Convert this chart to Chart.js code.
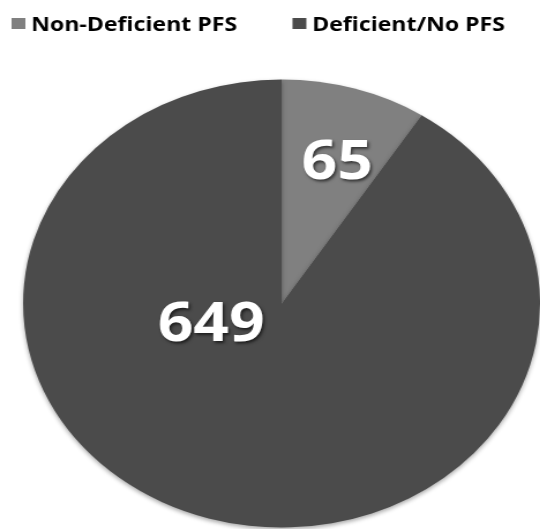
<!DOCTYPE html>
<html>
<head>
<meta charset="utf-8">
<script src="https://cdn.jsdelivr.net/npm/chart.js@4/dist/chart.umd.min.js"></script>
<style>
  html, body { margin: 0; padding: 0; background: #ffffff; overflow: hidden; }
  #wrap { width: 468px; height: 529px; transform: scale(1.154, 1); transform-origin: 0 0; }
  canvas { display: block; }
</style>
</head>
<body>
<div id="wrap"><canvas id="c" width="468" height="529"></canvas></div>
<script>
const categories = ["Non-Deficient PFS", "Deficient/No PFS"];
const counts = [65, 649];
const sliceColors = ["#808080", "#4b4b4b"];

// Draws the value labels on each slice (white bold with shadow)
const valueLabels = {
  id: 'valueLabels',
  afterDatasetsDraw(chart, args, opts) {
    const ctx = chart.ctx;
    const meta = chart.getDatasetMeta(0);
    meta.data.forEach((arc, i) => {
      const p = arc.getProps(['x', 'y', 'startAngle', 'endAngle', 'outerRadius'], true);
      const place = opts.place[i] || {};
      const ang = place.angle !== undefined ? (place.angle - 90) * Math.PI / 180 : (p.startAngle + p.endAngle) / 2;
      const d = p.outerRadius * (place.dist || 0.6);
      const x = p.x + Math.cos(ang) * d;
      const y = p.y + Math.sin(ang) * d;
      ctx.save();
      ctx.font = opts.font;
      ctx.textAlign = 'center';
      ctx.textBaseline = 'middle';
      ctx.shadowColor = 'rgba(0,0,0,0.6)';
      ctx.shadowBlur = 3;
      ctx.shadowOffsetX = 1.5;
      ctx.shadowOffsetY = 2;
      ctx.fillStyle = '#ffffff';
      ctx.fillText(String(chart.data.datasets[0].data[i]), x, y);
      ctx.restore();
    });
  }
};

// Soft shadow around the pie
const pieShadow = {
  id: 'pieShadow',
  beforeDatasetsDraw(chart) {
    const ctx = chart.ctx;
    ctx.save();
    ctx.shadowColor = 'rgba(0,0,0,0.35)';
    ctx.shadowBlur = 4;
    ctx.shadowOffsetX = 0;
    ctx.shadowOffsetY = 2;
  },
  afterDatasetsDraw(chart) {
    chart.ctx.restore();
  }
};

// Legend row at the top, drawn from the chart's labels and colours
const topLegend = {
  id: 'topLegend',
  afterDraw(chart, args, opts) {
    const ctx = chart.ctx;
    const ds = chart.data.datasets[0];
    ctx.save();
    ctx.font = opts.font;
    ctx.textBaseline = 'alphabetic';
    ctx.textAlign = 'left';
    let x = opts.x;
    chart.data.labels.forEach((lab, i) => {
      ctx.fillStyle = ds.backgroundColor[i];
      ctx.fillRect(x, opts.boxTop, opts.boxW, opts.boxH);
      x += opts.boxW + opts.gap;
      ctx.fillStyle = '#000000';
      ctx.fillText(lab, x, opts.baseline);
      x += ctx.measureText(lab).width + opts.itemGap;
    });
    ctx.restore();
  }
};

new Chart(document.getElementById('c'), {
  type: 'pie',
  data: {
    labels: categories,
    datasets: [{
      data: counts,
      backgroundColor: sliceColors,
      borderWidth: 0
    }]
  },
  options: {
    responsive: false,
    animation: false,
    devicePixelRatio: 1,
    layout: { padding: { top: 79, bottom: 1, left: 20, right: 0 } },
    plugins: {
      legend: { display: false },
      tooltip: { enabled: false },
      valueLabels: {
        font: 'bold 54px "Open Sans", sans-serif',
        place: [{ angle: 19, dist: 0.66 }, { angle: 250, dist: 0.29 }]
      },
      topLegend: {
        font: 'bold 20px "Open Sans", sans-serif',
        x: 10, boxTop: 18, boxW: 12, boxH: 11, gap: 5, baseline: 31, itemGap: 48
      }
    }
  },
  plugins: [pieShadow, valueLabels, topLegend]
});
</script>
</body>
</html>
